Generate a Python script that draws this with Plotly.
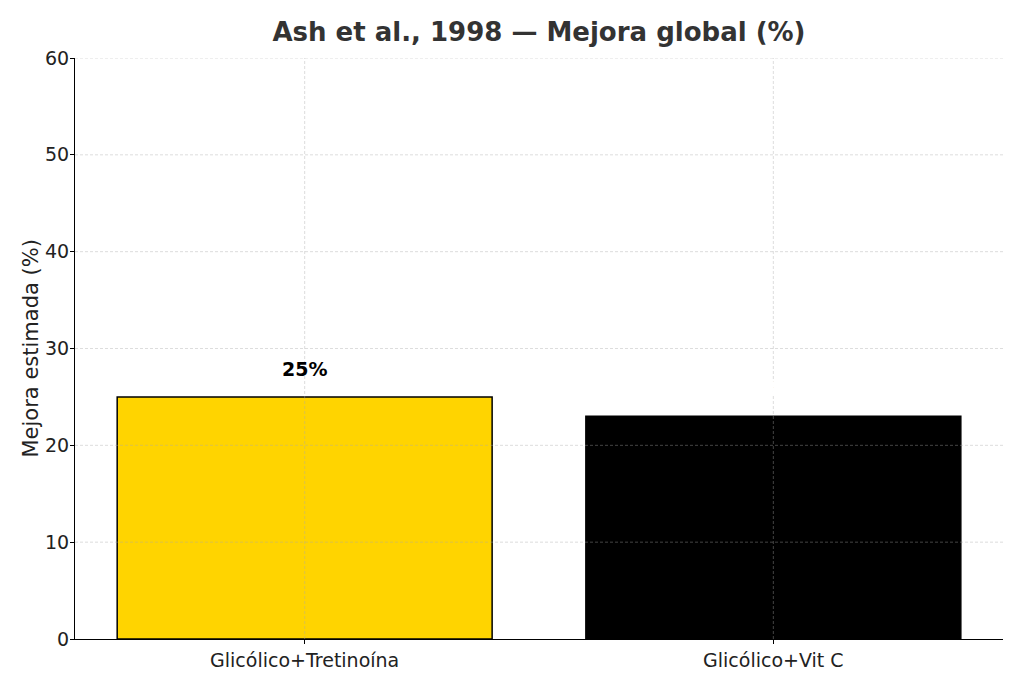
import plotly.graph_objects as go

# --- Data ---
categories = ["Glicólico+Tretinoína", "Glicólico+Vit C"]
mejora = [25, 23]
bar_colors = ["#FFD400", "#000000"]
label_colors = ["#000000", "#FFFFFF"]  # second label is white on white in the original
y_ticks = [0, 10, 20, 30, 40, 50, 60]

FONT = "DejaVu Sans"
GRID = "rgba(170,170,170,0.5)"

fig = go.Figure()
fig.add_trace(go.Bar(
    x=list(range(len(categories))), y=mejora,
    width=0.8,
    marker=dict(color=bar_colors, line=dict(color="#000000", width=1.5)),
    hoverinfo="skip",
))

# grid drawn over the bars, like the original
shapes = []
for i in range(len(categories)):
    shapes.append(dict(type="line", xref="x", yref="paper", x0=i, x1=i, y0=0, y1=1,
                       line=dict(color=GRID, width=0.8, dash="3px,2px"), layer="above"))
for t in y_ticks[1:]:
    shapes.append(dict(type="line", xref="paper", yref="y", x0=0, x1=1, y0=t, y1=t,
                       line=dict(color=GRID, width=0.8, dash="3px,2px"), layer="above"))

annotations = []
for i, (v, c) in enumerate(zip(mejora, label_colors)):
    annotations.append(dict(
        x=i, y=v + 2, xref="x", yref="y", text=f"<b>{v}%</b>",
        showarrow=False, yanchor="bottom", borderpad=0, yshift=-3,
        font=dict(family=FONT, size=19, color=c),
    ))

# y-axis title as a rotated annotation so its position can be set exactly
annotations.append(dict(
    x=0, y=0.5, xref="paper", yref="paper", xshift=-45, textangle=-90,
    text="Mejora estimada (%)", showarrow=False, xanchor="center", yanchor="middle",
    font=dict(family=FONT, size=21, color="#222222"),
))

# page body adds an 8px offset, so the figure is 8px smaller
fig.update_layout(
    width=1016, height=675,
    paper_bgcolor="white", plot_bgcolor="white",
    margin=dict(l=67, r=21, t=50, b=44),
    title=dict(text="<b>Ash et al., 1998 — Mejora global (%)</b>", x=0.5226, xanchor="center",
               y=0.964, yanchor="middle", font=dict(family=FONT, size=26, color="#333333")),
    showlegend=False,
    shapes=shapes,
    annotations=annotations,
)
fig.update_xaxes(
    range=[-0.49, 1.49], tickmode="array", tickvals=list(range(len(categories))),
    ticktext=categories, showgrid=False, zeroline=False, automargin=False,
    showline=True, linecolor="#000000", linewidth=1,
    ticks="outside", ticklen=4, tickcolor="#000000",
    tickfont=dict(family=FONT, size=19, color="#222222"),
)
fig.update_yaxes(
    range=[0, 60], tickmode="array", tickvals=y_ticks, showgrid=False, zeroline=False,
    automargin=False,
    showline=True, linecolor="#000000", linewidth=1,
    ticks="outside", ticklen=4, tickcolor="#000000", ticklabelstandoff=-3,
    tickfont=dict(family=FONT, size=19, color="#222222"),
)

fig.write_html("out.html")
